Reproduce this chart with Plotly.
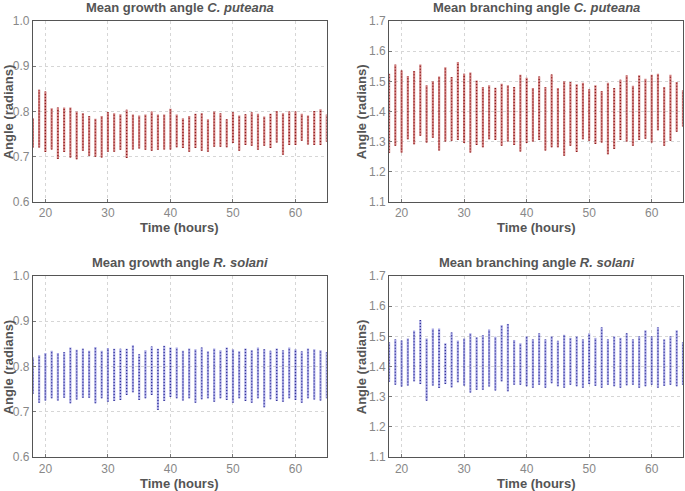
import plotly.graph_objects as go

hours = list(range(18, 66))

# growth angle C. puteana (min / max per hour)
gc_lo = [0.72, 0.72, 0.71, 0.716, 0.695, 0.71, 0.698, 0.694, 0.713, 0.702, 0.70, 0.698,
         0.711, 0.711, 0.715, 0.697, 0.716, 0.718, 0.715, 0.713, 0.715, 0.716, 0.716, 0.721,
         0.719, 0.711, 0.719, 0.713, 0.711, 0.722, 0.722, 0.721, 0.73, 0.713, 0.726, 0.724,
         0.715, 0.724, 0.719, 0.731, 0.704, 0.726, 0.726, 0.735, 0.727, 0.726, 0.726, 0.733]
gc_hi = [0.785, 0.848, 0.844, 0.807, 0.809, 0.809, 0.809, 0.80, 0.796, 0.79, 0.784, 0.79,
         0.799, 0.796, 0.794, 0.804, 0.793, 0.791, 0.793, 0.80, 0.793, 0.793, 0.806, 0.793,
         0.785, 0.79, 0.795, 0.796, 0.783, 0.80, 0.796, 0.783, 0.798, 0.791, 0.794, 0.798,
         0.795, 0.789, 0.795, 0.801, 0.796, 0.80, 0.80, 0.795, 0.791, 0.801, 0.805, 0.793]

# branching angle C. puteana
bc_lo = [1.262, 1.286, 1.264, 1.308, 1.291, 1.319, 1.297, 1.313, 1.27, 1.30, 1.303, 1.305,
         1.295, 1.264, 1.289, 1.281, 1.308, 1.305, 1.286, 1.30, 1.289, 1.267, 1.295, 1.30,
         1.305, 1.27, 1.281, 1.281, 1.253, 1.286, 1.265, 1.308, 1.303, 1.292, 1.297, 1.258,
         1.275, 1.305, 1.30, 1.286, 1.305, 1.309, 1.297, 1.338, 1.286, 1.303, 1.333, 1.35]
bc_hi = [1.525, 1.556, 1.536, 1.518, 1.534, 1.556, 1.487, 1.50, 1.516, 1.547, 1.514, 1.564,
         1.525, 1.529, 1.503, 1.481, 1.487, 1.479, 1.492, 1.487, 1.481, 1.522, 1.512, 1.478,
         1.516, 1.481, 1.523, 1.478, 1.50, 1.498, 1.49, 1.495, 1.474, 1.487, 1.468, 1.495,
         1.478, 1.505, 1.52, 1.485, 1.52, 1.509, 1.522, 1.525, 1.481, 1.522, 1.498, 1.47]

# growth angle R. solani
gr_lo = [0.74, 0.72, 0.725, 0.73, 0.725, 0.731, 0.719, 0.727, 0.731, 0.731, 0.719, 0.73,
         0.722, 0.724, 0.726, 0.737, 0.743, 0.726, 0.73, 0.737, 0.704, 0.724, 0.733, 0.73,
         0.725, 0.73, 0.72, 0.728, 0.73, 0.722, 0.73, 0.726, 0.72, 0.73, 0.724, 0.72,
         0.73, 0.71, 0.728, 0.724, 0.722, 0.73, 0.726, 0.72, 0.73, 0.727, 0.725, 0.73]
gr_hi = [0.82, 0.825, 0.83, 0.835, 0.83, 0.832, 0.842, 0.837, 0.839, 0.835, 0.843, 0.835,
         0.841, 0.839, 0.839, 0.839, 0.847, 0.827, 0.836, 0.844, 0.839, 0.846, 0.842, 0.842,
         0.835, 0.84, 0.838, 0.842, 0.834, 0.84, 0.836, 0.842, 0.838, 0.834, 0.84, 0.836,
         0.842, 0.838, 0.835, 0.84, 0.836, 0.842, 0.838, 0.834, 0.84, 0.838, 0.836, 0.832]

# branching angle R. solani
br_lo = [1.35, 1.34, 1.334, 1.337, 1.351, 1.342, 1.287, 1.337, 1.329, 1.342, 1.331, 1.348,
         1.337, 1.314, 1.323, 1.323, 1.334, 1.321, 1.351, 1.318, 1.34, 1.34, 1.335, 1.33,
         1.34, 1.33, 1.345, 1.335, 1.33, 1.34, 1.335, 1.33, 1.342, 1.336, 1.33, 1.34,
         1.335, 1.33, 1.338, 1.34, 1.33, 1.335, 1.34, 1.33, 1.336, 1.34, 1.335, 1.34]
br_hi = [1.48, 1.49, 1.486, 1.493, 1.519, 1.554, 1.493, 1.526, 1.526, 1.477, 1.513, 1.486,
         1.493, 1.51, 1.497, 1.504, 1.523, 1.499, 1.537, 1.541, 1.488, 1.477, 1.50, 1.49,
         1.51, 1.49, 1.50, 1.485, 1.505, 1.495, 1.50, 1.49, 1.51, 1.495, 1.53, 1.49,
         1.50, 1.495, 1.51, 1.49, 1.50, 1.52, 1.50, 1.53, 1.49, 1.50, 1.52, 1.48]

panels = [
    ("Mean growth angle <i>C. puteana</i>", gc_lo, gc_hi, "red", [0.6, 1.0]),
    ("Mean branching angle <i>C. puteana</i>", bc_lo, bc_hi, "red", [1.1, 1.7]),
    ("Mean growth angle <i>R. solani</i>", gr_lo, gr_hi, "blue", [0.6, 1.0]),
    ("Mean branching angle <i>R. solani</i>", br_lo, br_hi, "blue", [1.1, 1.7]),
]
colors = {
    "red": ("rgba(180,45,45,0.6)", "rgba(120,0,0,0.8)"),
    "blue": ("rgba(95,95,205,0.55)", "rgba(20,20,130,0.8)"),
}
xdom = [[0.048, 0.477], [0.568, 0.997]]
ydom = [[0.589, 0.957], [0.069, 0.438]]
ylab_x = [0.013, 0.528]
title_y = [0.984, 0.466]
xlab_y = [0.537, 0.015]

fig = go.Figure()
font = "Liberation Sans, Arial, sans-serif"
for i, (title, lo, hi, col, yr) in enumerate(panels):
    r, c = divmod(i, 2)
    xa = "x" if i == 0 else "x%d" % (i + 1)
    ya = "y" if i == 0 else "y%d" % (i + 1)
    xs, ys = [], []
    for h, a, b in zip(hours, lo, hi):
        xs += [h, h, None]
        ys += [a, b, None]
    band, dot = colors[col]
    fig.add_trace(go.Scatter(x=xs, y=ys, mode="lines", line=dict(color=band, width=2.2),
                             xaxis=xa, yaxis=ya, showlegend=False, hoverinfo="skip"))
    fig.add_trace(go.Scatter(x=xs, y=ys, mode="lines", line=dict(color=dot, width=1.3, dash="1px,2px"),
                             xaxis=xa, yaxis=ya, showlegend=False, hoverinfo="skip"))
    axis_common = dict(showline=True, linecolor="#555", linewidth=1, mirror=True,
                       showgrid=True, gridcolor="#d6d6d6", griddash="dot", gridwidth=1,
                       zeroline=False, ticks="inside", ticklen=3, tickcolor="#777",
                       tickfont=dict(family=font, size=12, color="#888"))
    key = "" if i == 0 else str(i + 1)
    fig.update_layout(**{
        "xaxis" + key: dict(domain=xdom[c], range=[18, 65], dtick=10, anchor=ya,
                            automargin=False, **axis_common),
        "yaxis" + key: dict(domain=ydom[r], range=yr, dtick=0.1, tickformat=".1f", anchor=xa,
                            automargin=False, **axis_common),
    })
    xmid = (xdom[c][0] + xdom[c][1]) / 2
    fig.add_annotation(text="<b>" + title + "</b>", x=xmid, y=title_y[r],
                       xref="paper", yref="paper", xanchor="center", yanchor="middle",
                       showarrow=False, font=dict(family=font, size=13, color="#555"))
    fig.add_annotation(text="<b>Time (hours)</b>", x=xmid, y=xlab_y[r],
                       xref="paper", yref="paper", xanchor="center", yanchor="middle",
                       showarrow=False, font=dict(family=font, size=13, color="#555"))
    fig.add_annotation(text="<b>Angle (radians)</b>", x=ylab_x[c],
                       y=(ydom[r][0] + ydom[r][1]) / 2, textangle=-90,
                       xref="paper", yref="paper", xanchor="center", yanchor="middle",
                       showarrow=False, font=dict(family=font, size=13, color="#555"))

fig.update_layout(width=685, height=491, margin=dict(l=0, r=0, t=0, b=0),
                  paper_bgcolor="white", plot_bgcolor="white")
fig.write_html("out.html", config={"displayModeBar": False},
               post_script="document.body.style.margin='0';")
